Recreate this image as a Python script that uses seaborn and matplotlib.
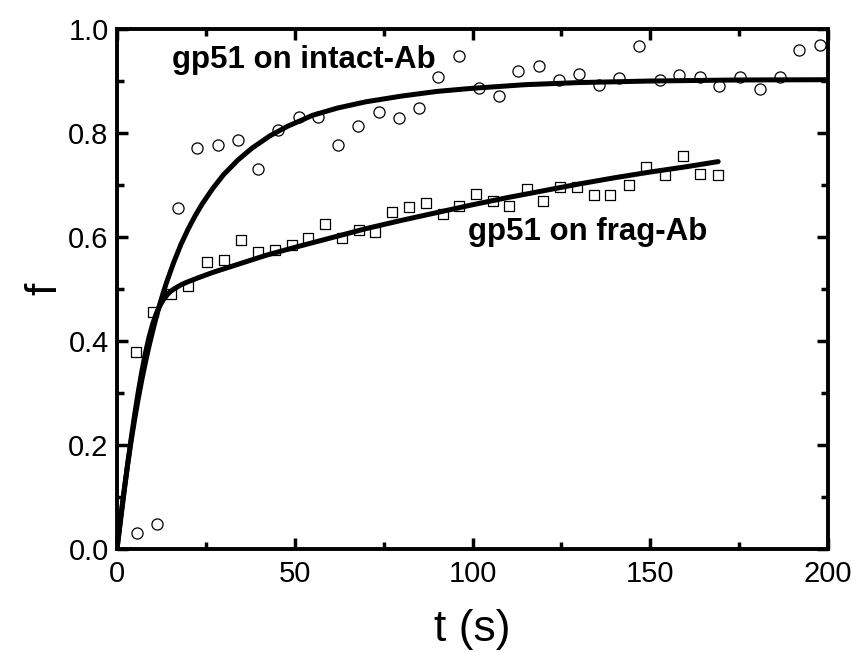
import matplotlib
matplotlib.use("Agg")
import matplotlib.pyplot as plt
from matplotlib.ticker import MultipleLocator
import seaborn as sns
import pandas as pd

# ---- data ----
intact_t = [5.7, 11.2, 17.2, 22.6, 28.5, 34.1, 39.8, 45.4, 51.1, 56.6, 62.3, 67.9,
            73.6, 79.2, 84.9, 90.4, 96.1, 101.8, 107.4, 112.9, 118.7, 124.3, 129.9,
            135.6, 141.2, 146.8, 152.7, 158.1, 163.9, 169.4, 175.2, 180.8, 186.5,
            191.9, 197.7]
intact_f = [0.030, 0.049, 0.656, 0.772, 0.777, 0.787, 0.731, 0.805, 0.831, 0.830,
            0.776, 0.814, 0.840, 0.828, 0.849, 0.907, 0.949, 0.886, 0.871, 0.920,
            0.928, 0.902, 0.913, 0.892, 0.905, 0.967, 0.902, 0.911, 0.908, 0.890,
            0.907, 0.884, 0.908, 0.960, 0.969]

frag_t = [5.3, 10.1, 15.2, 20.1, 25.2, 30.1, 35.0, 39.7, 44.4, 49.1, 53.8, 58.6,
          63.3, 68.0, 72.7, 77.4, 82.1, 86.9, 91.6, 96.3, 101.0, 105.7, 110.4,
          115.3, 119.8, 124.7, 129.4, 134.1, 138.8, 144.0, 148.9, 154.2, 159.1,
          164.1, 169.1]
frag_f = [0.378, 0.455, 0.490, 0.506, 0.551, 0.556, 0.594, 0.572, 0.575, 0.585,
          0.599, 0.625, 0.599, 0.613, 0.610, 0.649, 0.657, 0.666, 0.645, 0.660,
          0.682, 0.670, 0.660, 0.692, 0.669, 0.697, 0.696, 0.681, 0.681, 0.700,
          0.734, 0.719, 0.756, 0.722, 0.719]

# fitted curves
intact_fit_t = [0, 1, 2, 3, 4, 5, 6, 7, 8, 9, 10, 11, 12, 13, 14, 16, 18, 20, 22,
                24, 27, 30, 34, 38, 43, 48, 55, 62, 70, 80, 90, 100, 115, 130, 150,
                175, 200]
intact_fit_f = [0.000, 0.059, 0.113, 0.163, 0.209, 0.251, 0.290, 0.326, 0.359,
                0.390, 0.418, 0.445, 0.470, 0.4925, 0.514, 0.552, 0.586, 0.615,
                0.641, 0.664, 0.694, 0.720, 0.748, 0.771, 0.7945, 0.813, 0.834,
                0.848, 0.860, 0.871, 0.880, 0.886, 0.893, 0.897, 0.900, 0.902,
                0.9025]

frag_fit_t = [0, 1, 2, 3, 4, 5, 6, 7, 8, 9, 10, 11, 12, 13, 14, 15, 16, 18, 20,
              23, 27, 32, 37, 42, 50, 60, 70, 80, 90, 100, 110, 120, 130, 140,
              150, 160, 169.1]
frag_fit_f = [0.000, 0.055, 0.110, 0.163, 0.213, 0.260, 0.303, 0.342, 0.377,
              0.407, 0.432, 0.452, 0.467, 0.479, 0.488, 0.495, 0.500, 0.508,
              0.514, 0.522, 0.532, 0.543, 0.554, 0.565, 0.580, 0.598, 0.616,
              0.632, 0.647, 0.662, 0.676, 0.689, 0.702, 0.714, 0.725, 0.735,
              0.745]

label_intact = "gp51 on intact-Ab"
label_frag = "gp51 on frag-Ab"
x_ticks = [0, 50, 100, 150, 200]
y_ticks = [0.0, 0.2, 0.4, 0.6, 0.8, 1.0]

sns.set_theme(style="white")
plt.rcParams['font.family'] = ['Liberation Sans', 'DejaVu Sans']
plt.rcParams['text.color'] = 'black'
plt.rcParams['axes.labelcolor'] = 'black'
plt.rcParams['xtick.color'] = 'black'
plt.rcParams['ytick.color'] = 'black'

fig = plt.figure(figsize=(8.54, 6.52), dpi=100)
ax = fig.add_axes([0.137, 0.158, 0.8326, 0.7975])

df_i = pd.DataFrame({"t": intact_t, "f": intact_f})
df_f = pd.DataFrame({"t": frag_t, "f": frag_f})
fit_i = pd.DataFrame({"t": intact_fit_t, "f": intact_fit_f})
fit_f = pd.DataFrame({"t": frag_fit_t, "f": frag_fit_f})

sns.scatterplot(data=df_i, x="t", y="f", marker="o", s=64, facecolor="white",
                edgecolor="black", linewidth=0.9, ax=ax, zorder=2)
sns.scatterplot(data=df_f, x="t", y="f", marker="s", s=56, facecolor="white",
                edgecolor="black", linewidth=0.9, ax=ax, zorder=2)
sns.lineplot(data=fit_i, x="t", y="f", color="black", linewidth=3.6, ax=ax,
             sort=False, estimator=None, zorder=3)
sns.lineplot(data=fit_f, x="t", y="f", color="black", linewidth=3.6, ax=ax,
             sort=False, estimator=None, zorder=3)

ax.set_xlim(0, 200)
ax.set_ylim(0, 1.0)
ax.set_xticks(x_ticks)
ax.set_yticks(y_ticks)
ax.set_xticklabels([str(v) for v in x_ticks])
ax.set_yticklabels([f"{v:.1f}" for v in y_ticks])
ax.xaxis.set_minor_locator(MultipleLocator(25))
ax.yaxis.set_minor_locator(MultipleLocator(0.1))

for sp in ax.spines.values():
    sp.set_visible(True)
    sp.set_color("black")
    sp.set_linewidth(2.8)

ax.tick_params(which="both", direction="in", top=True, right=True,
               bottom=True, left=True, color="black", width=2.5)
ax.tick_params(which="major", length=8, labelsize=21, pad=6)
ax.tick_params(which="minor", length=5)
ax.tick_params(axis="x", which="major", pad=8)

ax.set_xlabel("t (s)", fontsize=32, labelpad=15)
ax.set_ylabel("f", fontsize=32, labelpad=2)

ax.text(15.5, 0.94, label_intact, fontsize=22.5, fontweight="bold",
        ha="left", va="center")
ax.text(98.6, 0.61, label_frag, fontsize=22.5, fontweight="bold",
        ha="left", va="center")

fig.savefig("out.png", dpi=100)
